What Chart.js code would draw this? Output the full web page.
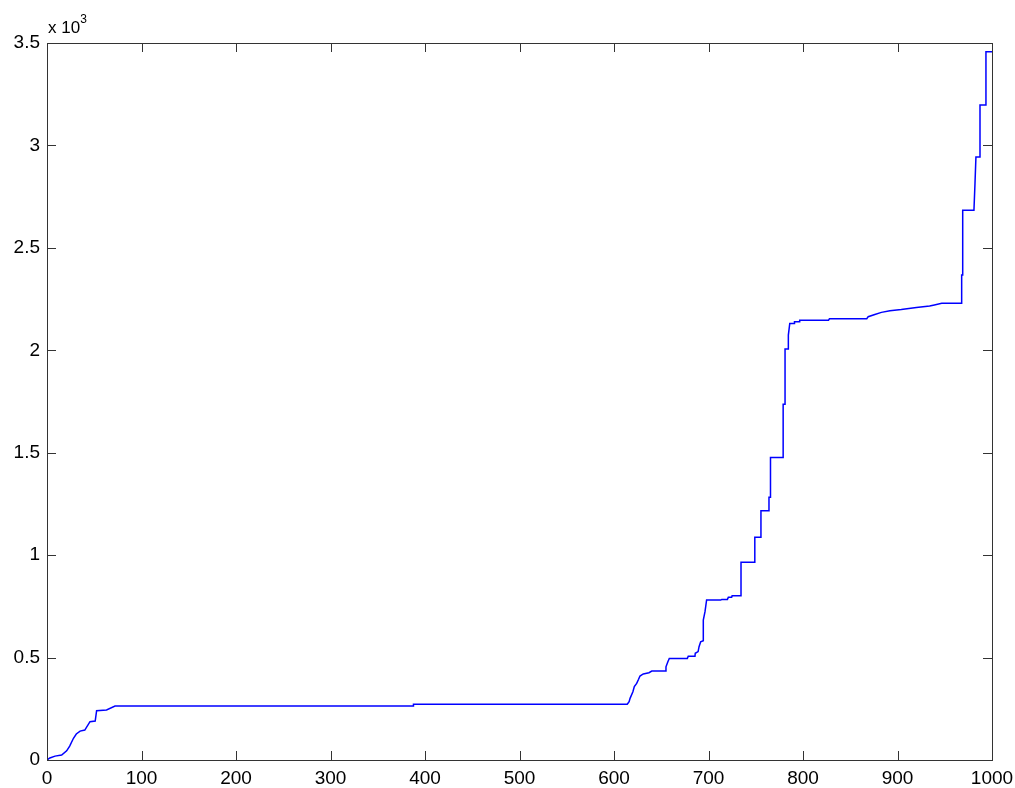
<!DOCTYPE html>
<html>
<head>
<meta charset="utf-8">
<script src="https://cdn.jsdelivr.net/npm/chart.js@4/dist/chart.umd.min.js"></script>
<style>
  html, body { margin: 0; padding: 0; background: #fff; }
  #wrap { width: 1015px; height: 788px; position: relative; }
</style>
</head>
<body>
<div id="wrap"><canvas id="chart"></canvas></div>
<script>
// corner points of the curve
const xValues = [0, 3, 8.5, 15.5, 20.8, 24, 28, 31, 35, 40, 45.5, 51, 52.5, 63, 72,
    387.6, 387.8, 614, 616, 617, 620, 621.5, 624, 626, 627.5, 631, 637, 640,
    654.7, 655, 657, 658.5, 677.6, 678.6, 685.7, 686, 689, 690, 691.7, 694.5,
    694.5, 696.3, 698, 713, 714, 720, 721, 724.5, 725, 734.4, 734.4, 749, 749,
    755.5, 755.5, 764, 764, 765.6, 765.6, 779, 779, 781, 781, 784.5, 784.5, 786,
    790.5, 791, 796, 796.5, 827, 828, 867.5, 869, 876, 883, 892, 904, 920, 934, 939,
    946.8, 967.9, 967.9, 969, 969, 980.9, 982, 983, 987.3, 987.3, 993.6, 993.6, 1000];
const yValues = [0, 10, 19, 24, 45, 68, 106, 127, 141, 146, 187, 190, 241, 244, 263,
    263, 272, 272, 285, 301, 333, 358, 374, 394, 410, 420, 426, 434,
    434, 455, 480, 496, 496, 507, 507, 521, 529, 553, 577, 582,
    683, 724, 781, 781, 784, 784, 794, 794, 802, 802, 965, 965, 1087,
    1087, 1217, 1217, 1282, 1282, 1477, 1477, 1737, 1737, 2006, 2006, 2074, 2131,
    2131, 2139, 2139, 2147, 2147, 2154, 2154, 2164, 2175, 2185, 2193, 2199, 2209, 2216, 2221,
    2229, 2229, 2367, 2367, 2684, 2684, 2814, 2944, 2944, 3197, 3197, 3457, 3457];
const xTicks = [0, 100, 200, 300, 400, 500, 600, 700, 800, 900, 1000];
const yTicks = [0, 500, 1000, 1500, 2000, 2500, 3000, 3500];

const points = xValues.map((x, i) => ({ x: x, y: yValues[i] }));
const fontFamily = "'Liberation Sans', Arial, sans-serif";

// MATLAB style box with inward ticks on all four sides
const boxPlugin = {
    id: 'matlabBox',
    afterDraw(chart) {
        const ctx = chart.ctx;
        const a = chart.chartArea;
        const xs = chart.scales.x;
        const ys = chart.scales.y;
        const tl = 9;
        ctx.save();
        ctx.strokeStyle = '#333';
        ctx.lineWidth = 1;
        ctx.strokeRect(a.left + 0.5, a.top + 0.5, a.right - a.left, a.bottom - a.top);
        ctx.beginPath();
        xTicks.forEach(v => {
            const px = Math.round(xs.getPixelForValue(v)) + 0.5;
            ctx.moveTo(px, a.bottom); ctx.lineTo(px, a.bottom - tl);
            ctx.moveTo(px, a.top); ctx.lineTo(px, a.top + tl);
        });
        yTicks.forEach(v => {
            const py = Math.round(ys.getPixelForValue(v)) + 0.5;
            ctx.moveTo(a.left, py); ctx.lineTo(a.left + tl, py);
            ctx.moveTo(a.right, py); ctx.lineTo(a.right - tl, py);
        });
        ctx.stroke();

        // exponent label
        ctx.fillStyle = '#000';
        ctx.textBaseline = 'alphabetic';
        ctx.textAlign = 'left';
        ctx.font = '17px ' + fontFamily;
        ctx.fillText('x 10', a.left + 1, a.top - 10);
        const w = ctx.measureText('x 10').width;
        ctx.font = '12px ' + fontFamily;
        ctx.fillText('3', a.left + 1 + w, a.top - 20);
        ctx.restore();
    }
};

new Chart(document.getElementById('chart').getContext('2d'), {
    type: 'line',
    data: {
        datasets: [{
            data: points,
            borderColor: '#0000ff',
            borderWidth: 1.5,
            pointRadius: 0,
            fill: false,
            tension: 0
        }]
    },
    options: {
        responsive: true,
        maintainAspectRatio: false,
        animation: false,
        events: [],
        layout: { padding: { top: 43, right: 23, left: 0, bottom: 0 } },
        plugins: {
            legend: { display: false },
            tooltip: { enabled: false }
        },
        scales: {
            x: {
                type: 'linear',
                min: 0,
                max: 1000,
                afterBuildTicks: s => { s.ticks = xTicks.map(v => ({ value: v })); },
                afterFit: s => { s.height = 28; s.paddingLeft = 0; s.paddingRight = 0; },
                grid: { display: false, drawTicks: false },
                border: { display: false },
                ticks: {
                    padding: 7,
                    color: '#000',
                    maxRotation: 0,
                    font: { family: fontFamily, size: 19 },
                    callback: v => String(v)
                }
            },
            y: {
                type: 'linear',
                min: 0,
                max: 3500,
                afterBuildTicks: s => { s.ticks = yTicks.map(v => ({ value: v })); },
                afterFit: s => { s.width = 47; s.paddingTop = 0; s.paddingBottom = 0; },
                grid: { display: false, drawTicks: false },
                border: { display: false },
                ticks: {
                    padding: 7,
                    color: '#000',
                    font: { family: fontFamily, size: 19 },
                    callback: v => String(v / 1000)
                }
            }
        }
    },
    plugins: [boxPlugin]
});
</script>
</body>
</html>
